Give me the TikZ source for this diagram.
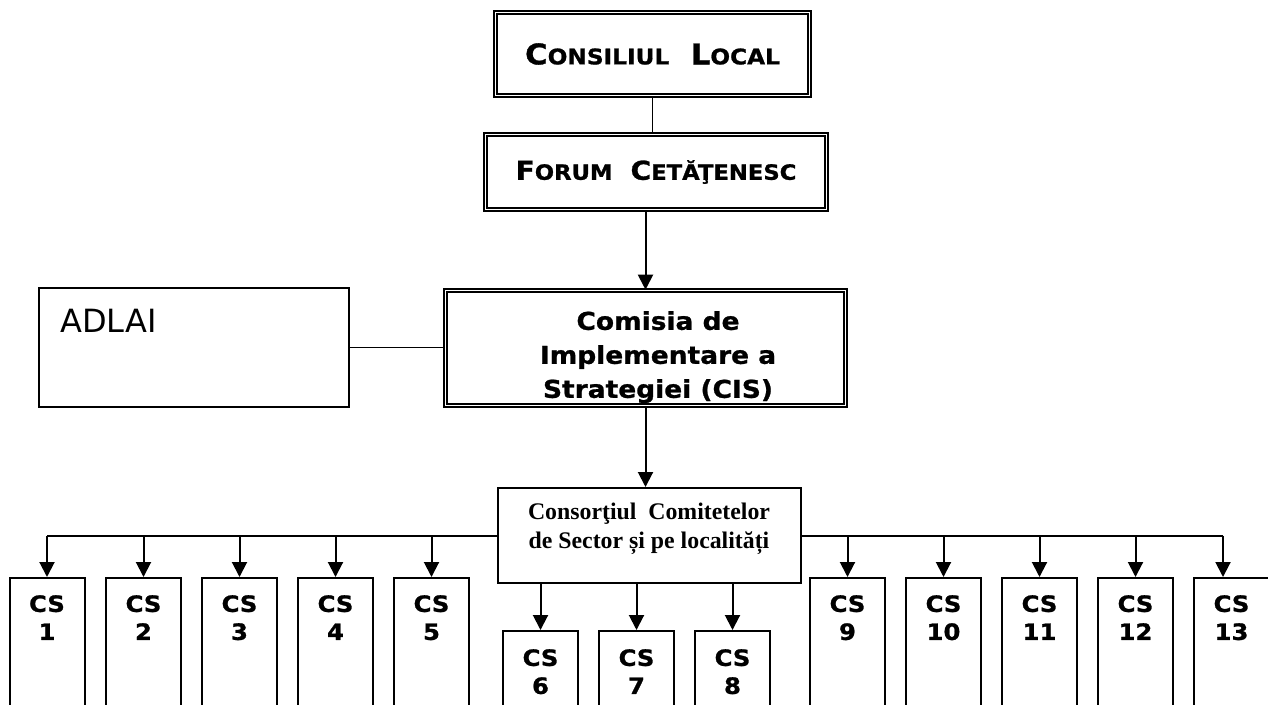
\documentclass[tikz,border=0pt]{standalone}
\usepackage{fontspec}
\setmainfont{DejaVu Sans}[FakeStretch=1.08, BoldFeatures={FakeBold=1}]
\newfontfamily\plainsans{DejaVu Sans}
\newfontfamily\timesfont{Liberation Serif}
\usetikzlibrary{arrows.meta}
% fake small capitals
\newcommand{\lowcaps}[2]{{\fontsize{#1}{#1}\selectfont #2}}

\begin{document}
\begin{tikzpicture}[x=1pt,y=-1pt,
  box/.style={draw, line width=2pt, inner sep=0pt},
  dblbox/.style={draw, double, line width=1.6pt, double distance=1.6pt, inner sep=0pt},
  csbox/.style={draw, line width=2pt, minimum width=75pt, minimum height=160pt, anchor=north, inner sep=0pt},
  cstext/.style={anchor=north, inner sep=0pt, align=center, font=\bfseries\fontsize{22.5}{28}\selectfont},
  arr/.style={line width=2pt, -{Triangle[width=15pt,length=15pt]}},
  thin/.style={line width=1.4pt}]
\useasboundingbox (0,0) rectangle (1268,704);
% top of the chart
\node[dblbox, minimum width=314pt, minimum height=83pt] (cl) at (652.5,54)
  {\bfseries\fontsize{28.5}{28.5}\selectfont C\lowcaps{21.5}{ONSILIUL}\ \ L\lowcaps{21.5}{OCAL}};
\node[dblbox, minimum width=341pt, minimum height=75pt] (fc) at (656,172)
  {\bfseries\fontsize{26}{26}\selectfont F\lowcaps{21}{ORUM}\hspace{18pt}C\lowcaps{21}{ETĂŢENESC}};
\node[dblbox, minimum width=400pt, minimum height=115pt] (cis) at (645.5,348) {};
\node[anchor=north, align=center, inner sep=0pt, font=\bfseries\fontsize{24.5}{34}\selectfont] (cistext) at (658,311)
  {Comisia de\\Implementare a\\Strategiei (CIS)};
\node[box, minimum width=310pt, minimum height=119pt] (adlai) at (194,347.5) {};
\node[anchor=base west, inner sep=0pt, font=\plainsans\fontsize{32}{38}\selectfont] (adlaitext) at (60,332) {ADLAI};
\node[box, minimum width=303pt, minimum height=95pt] (cons) at (649.5,535.5) {};
\node[anchor=north, align=center, inner sep=0pt, font=\timesfont\bfseries\fontsize{23.8}{29}\selectfont] (constext) at (649,503)
  {Consorţiul\ \ Comitetelor\\de Sector și pe localități};
\draw[thin] (cl.south) -- (cl.south |- fc.north);
\draw[arr] (fc.south -| cis.south) -- (cis.north);
\draw[thin] (adlai.east) -- (adlai.east -| cis.west);
\draw[arr] (cis.south) -- (cis.south |- cons.north);
% sector committees
\foreach \i/\x in {1/47,2/143.5,3/239.5,4/335.5,5/431.5,9/847.5,10/943.5,11/1039.5,12/1135.5,13/1231.5} {
  \node[csbox] (cs\i) at (\x,577) {};
  \node[cstext] (t\i) at ([yshift=-18pt]cs\i.north) {CS\\\i};
}
\foreach \i/\x in {6/540.5,7/636.5,8/732.5} {
  \node[csbox] (cs\i) at (\x,630) {};
  \node[cstext] (t\i) at ([yshift=-19pt]cs\i.north) {CS\\\i};
}
\coordinate (busend) at (1223,535.5);
\draw[line width=2pt] (cons.west) -- (cons.west -| cs1.north);
\draw[line width=2pt] (cons.east) -- (busend);
\foreach \i in {1,...,5} \draw[arr] (cons.west -| cs\i.north) -- (cs\i.north);
\foreach \i in {9,...,12} \draw[arr] (cons.east -| cs\i.north) -- (cs\i.north);
\draw[arr] (busend) -- (busend |- cs13.north);
\foreach \i in {6,7,8} \draw[arr] (cs\i.north |- cons.south) -- (cs\i.north);
\end{tikzpicture}
\end{document}
